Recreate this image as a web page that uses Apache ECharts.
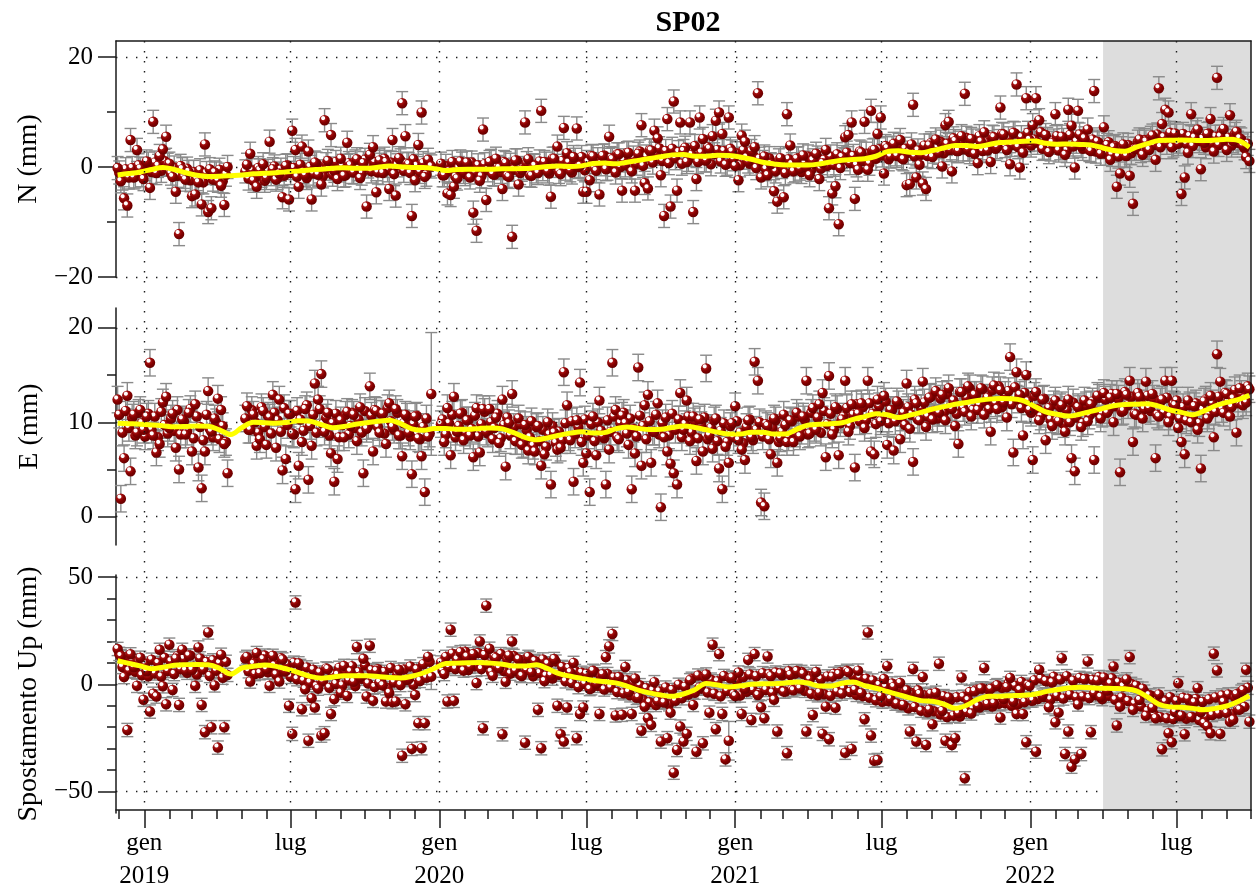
<!DOCTYPE html>
<html>
<head>
<meta charset="utf-8">
<script src="https://cdn.jsdelivr.net/npm/echarts@6/dist/echarts.min.js"></script>
<style>
  html, body { margin: 0; padding: 0; background: #ffffff; }
  #chart { width: 1260px; height: 893px; }
</style>
</head>
<body>
<div id="chart"></div>
<script>
// Station SP02: daily GNSS position residuals. Two interleaved samplings,
// each one solution every 4 days: the first starts 2018-11-29, the second
// two days later (null = no solution for that day).
const seriesStart = [2018, 10, 29];
const stepDays = 4;
const midOffsetDays = 2;

const northMm = [
  -0.2,-2.6,-5.7,-7.0,4.9,-1.9,3.1,-0.3,-2.2,1.0,
  -3.8,8.2,-1.1,2.0,3.2,5.5,0.6,-1.8,-4.5,-12.2,
  -0.4,-2.3,-0.9,-5.3,-5.0,-2.8,-6.8,4.1,-8.2,-7.5,
  -1.0,-2.5,-3.4,-6.9,0.0,null,null,null,null,null,
  0.4,2.4,-2.5,-3.6,-0.6,0.5,-2.0,4.6,-0.4,-2.3,
  -1.2,-5.5,0.2,-5.9,6.6,3.1,-3.6,3.7,-1.5,2.8,
  -5.9,0.8,-1.4,-3.2,8.5,1.1,5.8,-0.7,-2.2,1.5,
  -1.6,4.4,0.3,-1.0,1.4,-2.0,0.7,-7.2,2.2,3.6,
  -4.6,1.2,-1.1,0.9,-4.0,4.9,-5.2,1.6,11.6,5.6,
  0.5,-8.9,-2.4,4.0,9.9,-1.8,1.3,0.1,null,null,
  0.6,-1.5,-4.8,-5.1,-3.6,-2.1,1.0,-0.9,0.8,-1.9,
  -8.3,-11.6,-2.5,6.8,-6.0,0.9,-1.3,1.5,-0.2,-4.0,
  0.7,-1.8,-12.7,1.2,-3.2,-0.5,8.1,1.4,-1.6,0.2,
  -1.1,10.2,0.9,-0.8,-5.4,1.5,3.7,-1.3,7.1,2.5,
  -0.6,1.8,7.0,0.2,-4.5,-4.5,-2.4,1.9,-0.7,-5.0,
  2.0,-0.4,5.5,1.4,-1.0,2.3,-4.3,0.3,2.6,-0.8,
  -4.3,2.4,7.6,-2.9,-3.9,3.0,6.6,5.2,-1.5,-8.9,
  8.7,-7.2,11.9,-4.3,8.1,2.9,0.9,8.1,-8.2,-2.2,
  9.0,5.1,1.2,3.3,5.6,8.4,9.9,6.0,0.4,9.0,
  2.8,0.2,-2.4,5.7,4.6,1.0,2.9,3.6,13.4,-1.9,
  1.9,-1.5,0.5,-4.4,-6.3,1.6,-5.5,9.6,3.9,-0.8,
  1.5,-0.3,2.1,0.0,-1.5,1.2,2.4,-2.2,0.7,3.1,
  -7.5,-4.8,-3.5,-10.4,1.8,5.4,5.8,8.1,-5.8,-0.5,
  2.6,8.2,-0.5,10.2,3.1,6.0,9.0,-1.2,3.4,1.9,
  4.2,2.0,4.9,1.4,-3.3,-3.1,11.3,-1.9,0.4,-3.0,
  -4.0,3.9,1.8,5.0,2.6,0.1,7.6,8.2,-0.8,4.7,
  2.9,5.6,13.3,3.2,5.1,2.4,0.7,4.6,6.3,3.0,
  0.9,5.4,3.6,10.8,5.9,3.1,0.5,6.2,15.0,-0.1,
  2.6,12.5,4.9,7.6,12.5,8.5,3.3,5.8,2.7,4.4,
  9.6,3.0,5.5,2.2,10.4,7.5,-0.1,10.2,3.8,5.2,
  6.8,2.9,13.8,4.6,2.4,7.2,4.0,1.3,3.6,-3.6,
  -1.2,4.1,2.0,-1.6,-6.7,3.3,5.0,2.2,4.6,3.1,
  5.7,1.3,14.3,7.8,10.4,9.9,3.6,6.1,4.2,-4.9,
  -1.9,2.6,9.6,5.3,6.8,-0.4,4.4,6.0,8.7,2.8,
  16.2,5.5,6.9,3.1,9.4,4.7,6.4,5.2,3.9,1.8,1.1
];
const northMid = [
  -1.0,-2.1,-0.4,-1.9,-0.2,-1.7,0.3,-1.5,-0.4,0.6,
  -0.9,0.8,0.2,-0.7,1.1,0.4,-1.2,-0.1,-1.6,0.2,
  -1.8,-0.3,-2.4,-0.9,-2.2,-0.6,-2.8,-1.1,-0.4,-2.3,
  -1.2,-0.5,-2.6,-1.4,null,null,null,null,null,-0.8,
  -2.1,-0.6,-1.9,-0.2,-1.6,-2.5,-0.7,-1.3,0.1,-2.0,
  -0.5,-1.6,0.3,-1.1,-0.2,-1.8,0.4,-0.9,-2.0,0.0,
  -1.2,0.6,-0.8,-1.7,0.5,-0.3,-1.4,0.9,-0.6,0.2,
  -1.5,0.7,-0.9,1.0,-0.4,-1.2,1.3,0.1,-0.8,0.9,
  -1.0,0.4,1.5,-0.6,0.8,-1.3,0.3,1.2,-0.7,0.6,
  -1.1,1.4,0.2,-0.9,0.7,-1.4,0.4,null,null,null,
  -1.5,0.2,-0.8,0.9,-1.8,-0.2,0.6,-1.3,-0.4,0.8,
  -1.0,0.3,-1.7,0.5,-0.6,1.1,-1.4,0.0,-0.9,0.9,
  -1.6,0.4,-0.5,1.2,-1.1,-0.2,0.7,-1.5,0.3,-0.8,
  1.0,-0.4,0.6,-1.2,1.5,0.2,-0.9,1.1,-0.3,0.8,
  -1.0,1.3,0.0,1.8,-0.6,0.9,2.0,-0.2,1.4,0.5,
  2.1,-0.3,1.6,0.4,2.3,0.0,1.2,2.5,-0.1,1.7,
  0.6,2.8,0.2,1.9,3.0,0.8,2.4,3.4,1.1,2.9,
  0.7,3.3,1.6,2.7,0.6,3.5,1.3,2.2,3.8,0.9,
  2.6,1.2,3.6,0.5,2.3,3.1,1.0,2.9,0.6,3.3,
  1.4,2.5,0.3,3.0,1.7,0.6,2.2,-0.2,1.5,0.9,
  -0.4,1.6,0.3,-0.8,1.2,0.0,-1.1,1.4,0.5,-0.6,
  1.6,-0.9,0.8,1.9,-0.5,0.6,1.7,-0.3,1.3,0.2,
  1.9,0.4,2.3,-0.2,1.4,2.6,0.7,2.0,0.3,2.8,
  1.1,2.4,0.6,3.0,1.5,3.2,2.1,3.8,1.4,3.5,
  2.3,4.0,1.6,3.3,2.6,4.1,1.9,3.0,2.2,3.9,
  2.0,4.3,2.8,3.6,4.6,2.5,4.2,3.1,5.2,2.9,
  4.4,3.2,5.3,2.7,4.8,3.6,5.6,2.9,4.5,3.4,
  5.5,3.3,4.7,6.0,3.8,5.2,4.0,6.1,3.6,5.4,
  4.3,6.2,3.9,5.0,4.4,6.3,3.5,5.1,3.2,4.8,
  5.6,3.4,4.9,2.9,5.8,3.7,4.6,5.9,3.3,4.7,
  3.1,5.0,2.8,4.3,3.6,2.4,4.5,2.2,3.8,1.9,
  3.4,2.1,4.0,2.5,3.3,4.6,2.9,4.9,3.5,5.3,
  4.0,5.9,3.6,5.4,4.4,6.2,3.9,5.7,4.6,6.0,
  4.2,5.6,3.8,6.3,4.7,5.1,3.6,6.1,4.3,5.5,
  4.0,6.4,4.8,5.3,3.9,6.0,4.4,5.0,3.4,4.2
];

const eastMm = [
  12.4,1.9,6.2,12.8,4.8,10.8,8.9,11.3,9.2,10.6,
  16.3,8.6,6.8,7.7,12.1,12.7,9.4,10.9,7.3,5.0,
  10.3,8.7,11.0,6.9,11.9,5.2,3.0,6.9,13.3,9.0,
  10.4,12.5,11.3,7.7,4.6,null,null,null,null,null,
  11.7,9.2,10.8,7.5,8.2,11.2,7.6,10.5,12.9,7.3,
  12.4,4.9,6.1,10.9,8.8,2.9,5.4,7.9,11.4,3.9,
  7.5,14.1,12.4,15.1,9.0,11.0,6.7,3.7,6.1,10.2,
  8.4,11.1,9.6,10.8,8.0,11.6,4.6,9.3,13.8,6.9,
  11.2,8.9,10.9,7.7,12.0,9.5,11.4,8.6,6.4,10.8,
  8.9,4.5,10.6,8.3,6.4,2.6,8.5,13.0,null,null,
  9.8,7.9,11.5,6.5,12.7,9.0,10.9,8.1,10.2,8.6,
  6.3,11.5,6.8,11.4,9.0,11.4,8.2,10.5,7.8,12.4,
  5.3,9.9,13.0,8.0,10.4,7.6,9.7,7.0,10.1,6.9,
  9.6,5.4,6.6,10.0,3.4,8.9,7.1,7.3,15.3,11.8,
  8.1,3.7,10.2,14.2,5.7,6.7,2.6,10.6,6.5,12.3,
  8.5,3.4,7.1,16.3,11.3,8.2,10.7,9.9,7.6,2.9,
  6.7,15.8,5.4,11.8,12.9,5.7,9.0,12.0,1.0,8.4,
  6.9,5.6,4.6,3.4,13.1,9.2,12.3,8.0,10.6,5.9,
  10.3,6.9,15.7,8.6,7.2,10.4,5.1,2.9,7.4,5.7,
  9.9,11.7,8.1,7.1,6.0,10.2,8.4,16.4,14.4,1.5,
  1.1,9.6,6.6,10.4,5.7,8.3,10.8,7.9,10.2,7.9,
  11.0,8.5,10.6,14.4,8.8,11.5,9.2,11.9,13.1,6.3,
  14.9,8.7,11.6,6.5,10.3,14.4,9.0,11.9,5.2,10.9,
  12.0,9.4,14.4,6.9,6.6,12.4,10.1,12.8,7.6,11.3,
  7.0,12.2,8.2,11.0,14.1,9.3,5.8,12.0,10.2,14.3,
  9.5,12.6,10.3,13.3,11.0,12.9,10.2,13.6,11.4,9.6,
  7.7,13.2,11.1,13.8,10.6,12.9,11.3,13.6,10.8,12.6,
  9.0,13.9,11.4,13.4,12.1,10.5,16.9,6.8,15.3,12.9,
  8.6,15.0,11.3,6.0,13.2,10.2,12.4,8.1,11.5,9.6,
  12.3,10.1,11.8,9.0,12.4,6.2,4.8,11.6,9.5,12.3,
  10.1,11.9,6.0,12.8,10.4,13.1,11.0,12.6,10.0,13.0,
  4.7,11.2,12.9,14.4,7.9,10.8,12.7,10.4,14.3,11.5,
  13.0,6.2,10.6,12.4,14.4,10.0,14.4,11.8,9.4,7.9,
  6.6,12.3,10.0,11.7,9.2,5.1,12.2,10.4,12.8,8.4,
  17.2,14.3,11.0,13.0,10.6,12.5,8.9,13.6,11.8,12.1,13.5
];
const eastMid = [
  10.8,8.9,11.2,9.4,10.5,8.6,11.0,9.9,8.5,10.9,
  9.2,10.6,8.4,11.1,9.7,8.8,10.4,9.1,11.3,8.7,
  10.1,9.0,11.4,8.3,10.6,9.5,8.1,10.8,9.3,8.4,
  10.0,8.2,9.6,7.9,null,null,null,null,null,10.4,
  9.2,11.3,10.0,8.9,11.6,9.5,10.7,8.8,11.0,10.2,
  9.0,11.5,9.7,10.9,8.7,11.2,10.3,9.1,11.8,9.6,
  10.8,8.9,11.4,9.8,10.5,8.6,9.9,10.9,8.4,9.7,
  10.8,8.7,11.0,9.4,10.3,8.9,11.2,9.6,10.7,11.3,
  9.5,10.9,8.8,11.5,10.1,9.2,11.0,8.6,9.9,10.6,
  8.5,9.8,10.7,8.2,9.5,10.4,8.8,null,null,null,
  10.3,8.7,9.9,10.8,8.4,9.6,11.0,8.9,10.2,9.3,
  10.7,8.5,9.8,11.1,8.8,10.0,9.4,10.9,8.3,9.7,
  10.5,8.6,9.5,8.0,9.8,7.7,9.2,8.4,7.5,9.5,
  8.0,9.2,7.4,8.7,9.6,7.8,9.0,8.1,9.9,8.4,
  10.1,8.7,9.5,7.9,10.3,8.6,9.8,8.0,10.0,9.1,
  8.3,10.2,9.0,10.6,8.4,9.9,11.0,8.8,10.4,9.3,
  8.5,10.7,9.6,8.2,10.1,9.0,10.8,8.7,9.9,10.5,
  8.6,10.9,9.2,10.3,8.4,9.8,10.6,8.9,10.1,8.3,
  9.7,10.5,8.2,9.4,10.2,8.0,9.1,9.9,7.9,9.6,
  8.4,10.1,8.9,7.8,9.5,10.3,8.1,9.2,10.0,8.5,
  9.8,8.2,9.4,10.2,7.9,9.0,9.7,8.4,10.1,8.8,
  10.6,9.1,10.3,8.7,11.0,9.4,10.5,8.9,11.2,9.8,
  10.9,9.2,11.4,9.9,10.6,11.5,9.6,10.8,11.9,10.1,
  11.6,10.2,12.0,10.9,9.8,11.7,10.4,12.2,9.9,11.3,
  10.1,11.9,10.5,9.7,11.6,10.8,12.4,10.3,11.5,12.1,
  10.6,12.7,11.2,10.4,12.5,11.0,13.0,11.6,12.3,10.9,
  13.2,11.5,12.6,13.6,11.3,12.9,11.8,13.5,12.2,11.4,
  13.4,12.0,13.8,11.6,12.9,13.3,11.9,13.7,12.4,11.5,
  13.1,12.2,11.0,12.8,11.4,10.6,12.5,11.1,10.3,11.9,
  10.2,11.6,9.8,11.3,10.0,12.1,10.5,11.4,9.9,11.8,
  10.7,12.2,11.1,12.6,10.9,12.4,11.3,13.0,11.7,12.5,
  11.1,13.2,11.8,12.7,10.9,13.1,12.0,11.4,12.8,11.2,
  12.5,10.8,12.2,11.0,12.6,10.6,11.9,12.3,10.4,11.6,
  10.2,11.8,10.5,12.0,9.9,11.3,12.4,10.7,12.0,11.1,
  12.7,11.4,13.1,12.2,11.6,13.4,12.0,13.0,12.5,13.8
];

const upMm = [
  16.5,13.2,3.4,-21.3,14.0,8.0,-0.7,12.4,-7.2,6.1,
  -12.7,-4.4,-5.7,16.1,-0.9,-9.3,18.5,-2.6,12.0,-9.6,
  16.1,6.5,13.4,6.7,-0.7,17.2,-9.6,-22.3,24.2,-20.0,
  -0.5,-29.5,13.8,-20.0,4.4,null,null,null,null,null,
  12.8,1.3,9.5,14.6,5.2,11.7,7.0,-0.7,13.3,4.6,
  1.3,11.6,6.2,-10.0,-23.1,38.2,9.8,-11.6,-2.3,-26.3,
  -6.5,-10.8,-2.0,-23.9,-22.8,7.1,-13.8,-6.9,4.4,-3.9,
  8.6,-5.4,5.9,1.2,17.4,3.5,11.9,-5.7,18.0,-7.7,
  6.3,0.9,-0.5,-8.0,-4.0,-8.3,-8.0,6.8,-33.3,-9.3,
  2.4,-30.1,-5.0,-18.1,-29.8,-18.1,12.8,3.6,null,null,
  10.2,4.8,-8.0,25.5,-7.7,11.6,15.0,6.4,12.9,8.2,
  14.1,0.6,20.0,-20.5,36.7,16.6,4.0,12.3,7.5,-23.3,
  1.2,13.4,20.0,6.3,11.7,3.9,-27.2,12.8,5.6,10.9,
  -11.9,-29.8,1.5,9.6,4.2,11.8,-10.0,-23.3,-26.7,-10.8,
  5.6,10.0,-25.1,-13.8,-10.8,4.9,-2.2,6.3,0.4,-13.8,
  4.7,12.7,17.7,23.5,-14.5,3.4,-14.2,8.1,-3.6,-13.8,
  2.7,-6.0,-21.6,-10.4,-15.8,-18.9,1.0,-7.9,-26.7,-8.5,
  -25.1,-13.2,-41.2,-30.6,-19.7,-26.7,-23.1,1.9,-9.6,-31.4,
  -1.5,-27.5,4.6,-13.2,18.5,-20.9,14.1,-13.8,-35.0,-26.3,
  3.2,-5.4,5.5,-13.8,-2.1,11.4,-16.6,14.1,-5.0,-10.7,
  -15.8,13.0,3.8,-7.2,-22.0,5.1,-3.4,-32.1,4.4,-2.8,
  6.2,-1.9,4.9,-22.0,2.3,-14.3,5.8,-3.9,-23.1,-10.4,
  -25.6,3.6,-10.9,4.8,-4.3,-31.9,5.7,-30.1,-2.6,6.4,
  -4.1,-16.3,24.2,-23.9,-35.6,-35.3,-5.6,2.5,8.5,-6.8,
  -1.2,-8.9,0.6,-9.6,-2.8,-22.0,7.2,-26.7,-4.5,3.4,
  -28.3,-11.8,-18.6,-3.9,9.6,-12.4,-26.3,-6.1,-28.3,-25.1,
  -13.5,3.2,-43.8,-7.4,-13.6,-3.2,-10.1,-1.9,7.6,-9.2,
  -2.1,-8.8,-0.4,-15.5,-6.9,-1.3,3.0,-8.1,-13.8,-2.6,
  -13.8,-27.0,-0.8,-7.5,-31.4,6.8,-5.2,1.6,-10.7,0.9,
  -17.7,-13.2,12.2,-32.5,-22.0,-38.4,-35.0,-9.4,-32.5,2.4,
  10.7,-22.3,-4.1,1.8,-5.9,3.2,-3.0,0.4,8.3,-19.2,
  -10.4,-1.0,2.3,12.7,-11.9,-0.6,-7.3,-2.0,-14.7,-5.1,
  -10.9,-15.8,-4.7,-30.3,-8.1,-22.8,-27.0,-12.9,0.5,-14.6,
  -23.3,-6.7,-15.2,-8.4,-1.8,-13.0,-18.1,-19.5,-22.8,14.3,
  6.5,-23.1,-8.2,-13.4,-17.4,-16.5,-4.6,-11.8,-2.7,6.8,-17.4
];
const upMid = [
  14.2,8.1,12.6,6.4,11.3,5.9,10.8,4.2,9.7,3.8,
  11.5,5.1,9.9,3.6,12.4,6.2,10.7,4.8,13.1,7.0,
  11.9,5.4,13.5,8.2,4.6,12.1,6.9,10.4,3.9,11.2,
  6.3,9.8,3.1,10.5,null,null,null,null,null,12.0,
  6.1,10.9,4.8,12.7,7.3,13.4,5.6,11.5,8.8,3.9,
  12.2,6.0,9.4,3.5,10.1,2.4,8.6,1.7,7.9,0.8,
  6.8,-0.9,5.5,1.3,7.4,-1.6,4.9,0.2,7.7,-0.5,
  6.2,1.8,8.5,-0.8,5.7,2.6,8.9,0.4,6.6,-1.2,
  7.1,1.5,5.8,-1.7,7.6,0.9,4.7,-0.3,6.9,2.0,
  8.3,-0.2,7.0,1.6,9.4,3.1,10.5,null,null,null,
  6.4,12.8,8.0,14.3,7.2,13.0,9.1,15.2,6.7,12.5,
  8.4,14.6,7.1,13.7,9.3,5.8,12.9,7.6,14.1,6.2,
  11.8,5.0,13.2,8.5,4.3,11.4,6.6,12.1,3.8,10.3,
  5.2,11.6,4.0,9.8,2.7,10.6,4.5,8.1,1.4,7.6,
  0.6,6.2,-1.3,5.4,0.2,4.1,-1.8,5.9,-0.7,3.6,
  -2.4,4.8,-1.5,3.2,-3.6,2.5,-4.2,1.9,-5.1,0.8,
  -6.3,-0.4,-7.2,-1.8,-8.4,-2.9,-9.6,-3.3,-8.1,-1.5,
  -9.3,-2.6,-7.7,-0.2,-6.5,-1.1,-4.8,2.6,-3.9,4.1,
  -2.0,3.5,-3.8,2.2,-4.4,1.4,-5.6,3.9,-3.1,2.8,
  -4.6,1.7,-5.2,3.4,-3.5,4.6,-2.7,3.8,-4.1,5.2,
  -2.6,4.7,-3.9,5.5,-1.8,4.2,-3.3,6.1,-2.4,5.0,
  -1.6,5.8,-3.0,3.9,-4.4,4.5,-5.1,2.4,-4.6,3.7,
  -5.3,4.9,-3.4,5.6,-2.1,6.3,-3.6,4.0,-4.9,3.1,
  -5.5,2.6,-6.2,1.8,-7.4,-0.3,-8.1,-1.2,-7.9,0.4,
  -9.0,-2.1,-9.8,-3.5,-11.2,-4.0,-10.6,-2.8,-12.3,-5.1,
  -13.0,-4.4,-12.6,-6.2,-14.1,-5.5,-15.2,-7.3,-14.6,-6.0,
  -15.0,-5.8,-12.9,-3.6,-11.4,-2.5,-10.8,-1.9,-9.6,-2.7,
  -10.3,-0.9,-9.1,-1.6,-8.8,0.4,-10.0,-0.6,-9.2,1.1,
  -8.3,-0.2,-7.6,1.9,-6.8,2.7,-5.9,1.4,-7.1,3.5,
  -5.4,2.3,-6.6,3.8,-4.9,1.7,-6.0,3.0,-5.7,2.6,
  -6.4,2.1,-5.1,3.4,-6.9,1.5,-5.3,2.8,-7.2,0.9,
  -6.1,1.3,-7.8,0.2,-9.0,-1.8,-10.3,-3.4,-12.5,-5.2,
  -14.1,-6.6,-15.3,-7.4,-15.8,-6.0,-16.2,-7.7,-14.9,-6.3,
  -16.0,-7.9,-15.4,-6.8,-16.6,-8.2,-15.1,-7.0,-14.3,-6.1,
  -13.6,-5.2,-12.8,-4.7,-13.9,-6.0,-11.7,-3.4,-10.5,-1.6
];

// One-sigma formal errors (mm); a few days have wider uncertainties.
const errNorth = 2.1;
const errEast = 1.4;
const errUp = 3.1;
const wideErrNorth = {};
const wideErrEast = { 97: 6.5, 189: 2.5 };
const wideErrUp = { 97: 6.0, 189: 9.0 };

// Smoothed trend (yellow), one node every 14 days from the first start date.
const trendStep = 14;
const trendNorth = [
  -1.45,-1.2,-0.9,-0.45,-0.1,-0.45,-1.05,-1.5,-1.72,-1.68,
  -1.58,-1.47,-1.25,-1.15,-1.04,-0.88,-0.72,-0.55,-0.4,-0.25,
  -0.12,-0.25,-0.25,-0.05,0.17,0.05,-0.1,-0.1,-0.3,-0.65,
  -0.45,-0.4,-0.42,-0.42,-0.3,-0.3,-0.28,-0.1,0.08,0.17,
  0.08,0.2,0.65,0.72,0.57,0.85,1.2,1.55,1.85,2.2,
  2.25,1.95,1.95,2.12,2.08,1.83,1.4,0.85,0.55,0.36,
  0.36,0.36,0.55,0.9,1.22,1.35,1.5,1.95,2.8,2.95,
  2.66,2.6,3.0,3.45,3.9,3.9,3.7,4.1,4.43,4.55,
  4.68,4.7,4.3,4.13,4.19,4.1,4.0,3.5,3.0,2.85,
  3.6,4.25,4.8,4.85,4.9,4.85,4.8,4.9,5.05,4.85,
  3.6
];
const trendEast = [
  9.9,9.85,9.8,9.72,9.62,9.52,9.55,9.6,9.57,9.2,
  8.7,9.45,10.0,9.95,9.9,10.0,10.15,10.1,9.75,9.42,
  9.55,9.78,9.95,10.1,10.2,9.85,9.3,9.15,9.35,9.35,
  9.25,9.25,9.35,9.4,9.3,8.9,8.4,8.15,8.35,8.62,
  8.85,9.0,8.85,8.9,9.3,9.5,9.35,9.22,9.25,9.45,
  9.6,9.45,9.2,8.95,8.75,8.75,8.95,8.95,8.75,8.75,
  9.25,9.7,9.78,9.85,9.95,10.3,10.6,10.9,10.8,10.5,
  10.75,11.05,11.4,11.65,11.9,12.1,12.3,12.45,12.52,12.5,
  12.3,11.7,11.1,10.85,10.65,10.85,11.15,11.45,11.75,11.88,
  11.9,11.95,11.7,11.3,11.05,10.8,11.2,11.75,12.1,12.4,
  12.85
];
const trendUp = [
  11.0,9.8,8.6,7.3,8.0,8.9,9.2,9.3,9.1,7.5,
  4.8,7.7,8.4,9.0,8.4,7.1,5.5,3.7,2.9,3.4,
  4.0,4.0,4.0,3.7,3.2,3.0,3.8,5.3,7.5,9.7,
  9.9,10.1,10.2,9.9,9.4,8.6,8.6,9.1,7.3,5.0,
  3.8,2.8,1.9,1.3,0.7,-0.8,-2.7,-4.0,-5.0,-5.6,
  -4.5,-2.5,0.4,-0.3,-1.2,-0.7,0.0,0.3,0.3,0.6,
  1.1,0.6,-0.8,-0.8,0.5,1.1,-0.6,-1.8,-3.3,-4.8,
  -6.3,-7.6,-7.9,-9.2,-11.2,-9.8,-7.0,-5.6,-5.5,-5.3,
  -5.1,-4.6,-3.4,-2.5,-1.7,-1.4,-1.6,-1.8,-1.9,-2.1,
  -3.0,-5.9,-9.3,-10.5,-10.7,-11.2,-11.9,-11.2,-10.1,-8.0,
  -5.3
];

// Axis extents and tick values
const axisStart = [2018, 10, 27];
const axisEnd = [2022, 9, 1];
const shadeFrom = [2022, 3, 1];
const labelledMonths = [[2019,0],[2019,6],[2020,0],[2020,6],[2021,0],[2021,6],[2022,0],[2022,6]];
const monthNames = { 0: 'gen', 6: 'lug' };

const panels = [
  { name: 'N (mm)', values: northMm, mid: northMid, trend: trendNorth, err: errNorth, wide: wideErrNorth,
    min: -20, max: 22.9, major: [-20, 0, 20], minor: [-10, 10] },
  { name: 'E (mm)', values: eastMm, mid: eastMid, trend: trendEast, err: errEast, wide: wideErrEast,
    min: -3, max: 22.1, major: [0, 10, 20], minor: [5, 15] },
  { name: 'Spostamento Up (mm)', values: upMm, mid: upMid, trend: trendUp, err: errUp, wide: wideErrUp,
    min: -60, max: 51, major: [-50, 0, 50], minor: [-40, -30, -20, -10, 10, 20, 30, 40] }
];

const FONT = '"Liberation Serif", "Times New Roman", serif';
const INK = '#1a1a1a';
const dayTs = (y, m, d) => new Date(y, m, d).getTime();
const pointTs = (i, offset) => dayTs(seriesStart[0], seriesStart[1], seriesStart[2] + offset + i * stepDays);
const trendTs = k => dayTs(seriesStart[0], seriesStart[1], seriesStart[2] + k * trendStep);

const xMin = dayTs(...axisStart);
const xMax = dayTs(...axisEnd);
const majorX = labelledMonths.map(([y, m]) => dayTs(y, m, 1));
const minorX = [];
for (let n = 0; ; n++) {
  const t = dayTs(2018, 11 + n, 1);
  if (t > xMax) break;
  if (t >= xMin) minorX.push(t);
}

const minus = v => String(v).replace('-', '\u2212');
const dotted = { color: INK, width: 1.4, type: [1.4, 8.6] };
const axisLineStyle = { color: INK, width: 1.5 };

const ballColor = new echarts.graphic.RadialGradient(0.36, 0.3, 0.72, [
  { offset: 0, color: '#ffffff' },
  { offset: 0.2, color: '#ffffff' },
  { offset: 0.33, color: '#a51212' },
  { offset: 0.6, color: '#850000' },
  { offset: 1, color: '#650000' }
]);

function errorBar(params, api) {
  const x = api.value(0), y = api.value(1), e = api.value(2);
  const top = api.coord([x, y + e]);
  const bot = api.coord([x, y - e]);
  const hw = 6;
  const style = { stroke: '#8a8a8a', lineWidth: 1.4 };
  return {
    type: 'group',
    children: [
      { type: 'line', shape: { x1: top[0], y1: top[1], x2: bot[0], y2: bot[1] }, style },
      { type: 'line', shape: { x1: top[0] - hw, y1: top[1], x2: top[0] + hw, y2: top[1] }, style },
      { type: 'line', shape: { x1: bot[0] - hw, y1: bot[1], x2: bot[0] + hw, y2: bot[1] }, style }
    ]
  };
}

const grid = [
  { left: 116, right: 9, top: 41, bottom: 80 },
  { left: 116, right: 9, top: 41, height: 236 },
  { left: 116, right: 9, top: 308, height: 237 },
  { left: 116, right: 9, top: 575, bottom: 80 }
];

// Dates are plotted as millisecond timestamps on value axes.
const xAxis = [
  { // date axis with labelled half-year ticks and the vertical grid
    type: 'value', gridIndex: 0, position: 'bottom', min: xMin, max: xMax, z: 10,
    axisLine: { show: true, onZero: false, lineStyle: axisLineStyle },
    axisTick: { show: true, length: 18, customValues: majorX, lineStyle: axisLineStyle },
    axisLabel: {
      show: true, customValues: majorX, margin: 17, color: '#000',
      fontFamily: FONT, fontSize: 25, lineHeight: 33, align: 'center',
      formatter: v => {
        const d = new Date(v);
        return d.getMonth() === 0 ? monthNames[0] + '\n' + d.getFullYear() : monthNames[d.getMonth()];
      }
    },
    splitLine: { show: true, lineStyle: dotted }
  },
  { // monthly minor ticks
    type: 'value', gridIndex: 0, position: 'bottom', min: xMin, max: xMax, z: 10,
    axisLine: { show: false, onZero: false },
    axisTick: { show: true, length: 9, customValues: minorX, lineStyle: axisLineStyle },
    axisLabel: { show: false, customValues: minorX },
    splitLine: { show: false }
  },
  { // top frame line
    type: 'value', gridIndex: 0, position: 'top', min: xMin, max: xMax, z: 10,
    axisLine: { show: true, onZero: false, lineStyle: axisLineStyle },
    axisTick: { show: false }, axisLabel: { show: false }, splitLine: { show: false }
  }
];
const yAxis = [
  { // right frame line
    type: 'value', gridIndex: 0, position: 'right', min: 0, max: 1, z: 10,
    axisLine: { show: true, onZero: false, lineStyle: axisLineStyle },
    axisTick: { show: false }, axisLabel: { show: false }, splitLine: { show: false }
  }
];
const series = [
  { // shaded period
    type: 'line', xAxisIndex: 0, yAxisIndex: 0, z: 1, silent: true,
    data: [[xMin, 0]], symbol: 'none', lineStyle: { opacity: 0 },
    markArea: {
      silent: true,
      itemStyle: { color: '#dddddd' },
      data: [[{ xAxis: dayTs(...shadeFrom) }, { xAxis: xMax }]]
    }
  }
];

panels.forEach((p, idx) => {
  const g = idx + 1;
  const xi = xAxis.length;
  xAxis.push({ type: 'value', gridIndex: g, min: xMin, max: xMax, show: false });
  const yi = yAxis.length;
  yAxis.push({
    type: 'value', gridIndex: g, position: 'left', min: p.min, max: p.max,
    name: p.name, nameLocation: 'middle', nameGap: 72, nameRotate: 90,
    nameTextStyle: { fontFamily: FONT, fontSize: 28, color: '#000' },
    axisLine: { show: true, onZero: false, lineStyle: axisLineStyle },
    axisTick: { show: true, length: 18, customValues: p.major, lineStyle: axisLineStyle },
    axisLabel: { show: true, customValues: p.major, margin: 23, color: '#000',
                 fontFamily: FONT, fontSize: 25, formatter: minus },
    splitLine: { show: true, lineStyle: dotted }
  });
  yAxis.push({
    type: 'value', gridIndex: g, position: 'left', min: p.min, max: p.max,
    axisLine: { show: false, onZero: false },
    axisTick: { show: true, length: 9, customValues: p.minor, lineStyle: axisLineStyle },
    axisLabel: { show: false, customValues: p.minor },
    splitLine: { show: false }
  });

  const pts = [], bars = [];
  const add = (values, offset, wide) => values.forEach((v, i) => {
    if (v === null) return;
    const t = pointTs(i, offset);
    pts.push([t, v]);
    bars.push([t, v, wide && wide[i] !== undefined ? wide[i] : p.err]);
  });
  add(p.mid, midOffsetDays, null);
  add(p.values, 0, p.wide);

  series.push({
    type: 'custom', xAxisIndex: xi, yAxisIndex: yi, z: 3, silent: true,
    renderItem: errorBar, data: bars, encode: { x: 0, y: 1 }
  });
  series.push({
    type: 'scatter', xAxisIndex: xi, yAxisIndex: yi, z: 4, silent: true,
    data: pts, symbol: 'circle', symbolSize: 10.5,
    itemStyle: { color: ballColor, opacity: 1 }
  });
  series.push({
    type: 'line', xAxisIndex: xi, yAxisIndex: yi, z: 5, silent: true,
    data: p.trend.map((v, k) => [trendTs(k), v]),
    smooth: 0.35, symbol: 'none',
    lineStyle: { color: '#ffff00', width: 5 }
  });
});

const chart = echarts.init(document.getElementById('chart'), null, { renderer: 'canvas' });
chart.setOption({
  animation: false,
  backgroundColor: '#ffffff',
  title: {
    text: 'SP02', left: 683, top: 3, textAlign: 'center',
    textStyle: { fontFamily: FONT, fontWeight: 'bold', fontSize: 30, color: '#000' }
  },
  grid, xAxis, yAxis, series
});
</script>
</body>
</html>
